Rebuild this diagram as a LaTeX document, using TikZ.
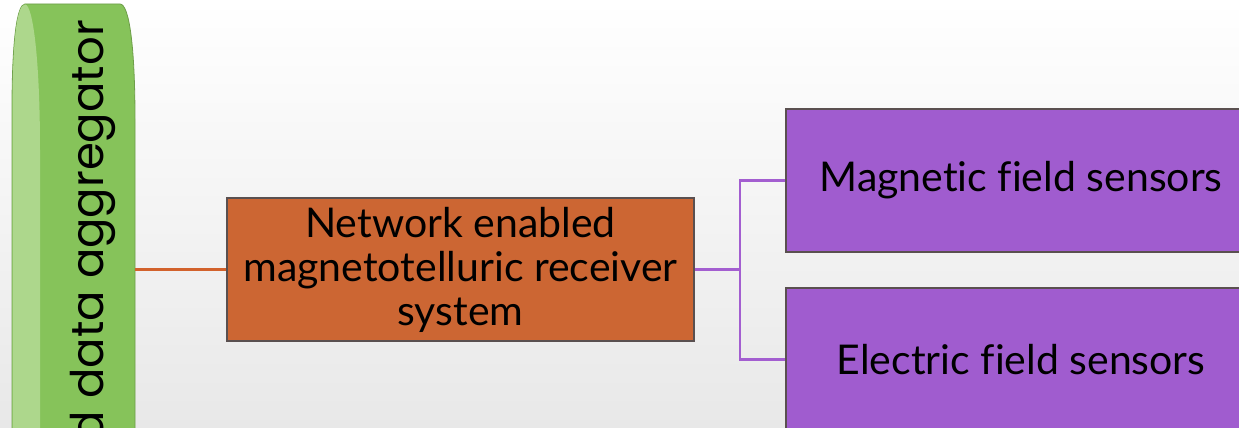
\documentclass[tikz,border=0pt]{standalone}
\usepackage{fontspec}
\setmainfont[Ligatures=NoCommon]{Lato}
\newfontfamily\roundfont{Poppins}
\definecolor{aggGreen}{HTML}{86C35A}
\definecolor{aggLight}{HTML}{ADD78C}
\definecolor{aggEdge}{HTML}{6E9E4A}
\definecolor{rxOrange}{HTML}{CC6633}
\definecolor{rxLine}{HTML}{D2622C}
\definecolor{snPurple}{HTML}{A05CCF}
\definecolor{snLine}{HTML}{A35ED0}
\definecolor{boxEdge}{HTML}{5A5050}
\tikzset{
  blockbox/.style={draw=boxEdge, line width=1.5pt, inner sep=0pt, align=center,
    font=\fontsize{41}{44}\selectfont},
  rxbox/.style={blockbox, fill=rxOrange, minimum width=467pt, minimum height=143pt},
  sensorbox/.style={blockbox, fill=snPurple, minimum width=470pt, minimum height=143pt,
    font=\fontsize{41}{46}\selectfont},
  orangelink/.style={draw=rxLine, line width=2.5pt},
  purplelink/.style={draw=snLine, line width=2.5pt},
}
\begin{document}
\begin{tikzpicture}[x=1pt, y=-1pt]
  \useasboundingbox (0,0) rectangle (1239,428);
  \shade[top color=white, bottom color=black!9] (0,0) rectangle (1239,428);
  \clip (0,0) rectangle (1239,428);

  % cylinder-like aggregator column
  \fill[aggGreen, draw=aggEdge, line width=0.8pt]
    (12,440) -- (12,110) .. controls (12,40) and (17,4) .. (25,4)
    -- (120,4) .. controls (129,4) and (135,45) .. (135,120) -- (135,440) -- cycle;
  \fill[aggLight]
    (12.5,440) -- (12.5,110) .. controls (12.5,40) and (17,4.5) .. (25,4.5)
    .. controls (33,4.5) and (40,60) .. (40,150) -- (40,440) -- cycle;
  \node (agg) [inner sep=0pt, minimum width=123pt, minimum height=436pt] at (73.5,222) {};
  \node (aggtext) [rotate=90, anchor=base east, inner sep=0pt,
    font=\roundfont\fontsize{45}{54}\selectfont] at (103,20) {d data aggregator};

  % receiver and sensor blocks
  \node (rx) [rxbox] at (460.5,269.5) {Network enabled\\magnetotelluric receiver\\system};
  \node (mag) [sensorbox] at (1021,180.5) {Magnetic field sensors};
  \node (ele) [sensorbox] at (1021,359.5) {Electric field sensors};
  \coordinate (split) at (740,269.5);

  % connectors
  \draw[orangelink] (rx.west -| agg.east) -- (rx.west);
  \draw[purplelink] (rx.east) -- (split);
  \draw[purplelink] (mag.west) -| (split) |- (ele.west);
\end{tikzpicture}
\end{document}
